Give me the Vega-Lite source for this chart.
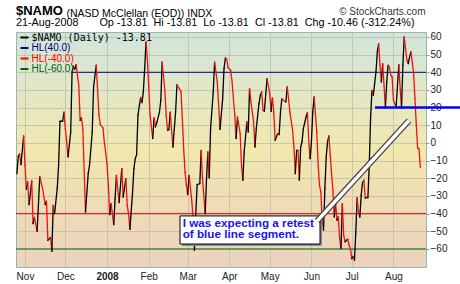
{
  "$schema": "https://vega.github.io/schema/vega-lite/v6.json",
  "width": 410,
  "height": 235,
  "autosize": {"type": "none"},
  "padding": {"left": 16, "top": 32, "right": 34, "bottom": 17},
  "background": "white",
  "title": {
    "text": "$NAMO",
    "subtitle": "21-Aug-2008\u00a0\u00a0\u00a0\u00a0\u00a0\u00a0\u00a0Op -13.81\u00a0\u00a0Hi -13.81\u00a0\u00a0Lo -13.81\u00a0\u00a0Cl -13.81\u00a0\u00a0Chg -10.46 (-312.24%)",
    "anchor": "start",
    "frame": "group",
    "font": "Liberation Sans",
    "fontSize": 13,
    "fontWeight": "bold",
    "color": "#000000",
    "subtitleFont": "Liberation Sans",
    "subtitleFontSize": 10.8,
    "subtitleColor": "#000000",
    "subtitlePadding": -1,
    "offset": -21
  },
  "datasets": {
    "namo": [
      {"date": "2007-10-26", "v": -17.4}, {"date": "2007-10-27", "v": -7.4}, {"date": "2007-10-28", "v": -6.2}, {"date": "2007-10-29", "v": -12.3}, {"date": "2007-10-31", "v": 4.0},
      {"date": "2007-11-01", "v": -12.6}, {"date": "2007-11-02", "v": -26.2}, {"date": "2007-11-03", "v": -22.1}, {"date": "2007-11-04", "v": -34.9}, {"date": "2007-11-06", "v": -21.5},
      {"date": "2007-11-07", "v": -45.7}, {"date": "2007-11-08", "v": -42.1}, {"date": "2007-11-10", "v": -50.0}, {"date": "2007-11-12", "v": -19.1}, {"date": "2007-11-14", "v": -25.5},
      {"date": "2007-11-16", "v": -34.9}, {"date": "2007-11-17", "v": -33.0}, {"date": "2007-11-18", "v": -55.1}, {"date": "2007-11-20", "v": -53.4}, {"date": "2007-11-21", "v": -61.3},
      {"date": "2007-11-22", "v": -35.3}, {"date": "2007-11-23", "v": -40.0}, {"date": "2007-11-25", "v": -25.5}, {"date": "2007-11-26", "v": -12.6}, {"date": "2007-11-27", "v": 12.3},
      {"date": "2007-11-29", "v": 12.3}, {"date": "2007-11-30", "v": 17.5}, {"date": "2007-12-01", "v": 8.1}, {"date": "2007-12-02", "v": 0.6}, {"date": "2007-12-03", "v": -7.9},
      {"date": "2007-12-05", "v": 6.2}, {"date": "2007-12-06", "v": 40.2}, {"date": "2007-12-07", "v": 43.6}, {"date": "2007-12-08", "v": 41.7}, {"date": "2007-12-09", "v": 44.3},
      {"date": "2007-12-11", "v": 32.6}, {"date": "2007-12-12", "v": 12.8}, {"date": "2007-12-13", "v": 14.2}, {"date": "2007-12-14", "v": 8.1}, {"date": "2007-12-16", "v": -39.1},
      {"date": "2007-12-18", "v": -17.4}, {"date": "2007-12-19", "v": -12.6}, {"date": "2007-12-21", "v": 6.2}, {"date": "2007-12-22", "v": 31.7}, {"date": "2007-12-24", "v": 44.0},
      {"date": "2007-12-26", "v": 15.7}, {"date": "2007-12-27", "v": 10.4}, {"date": "2007-12-29", "v": 8.5}, {"date": "2007-12-30", "v": 0.6}, {"date": "2008-01-01", "v": -11.7},
      {"date": "2008-01-02", "v": -24.0}, {"date": "2008-01-03", "v": -40.6}, {"date": "2008-01-04", "v": -34.3}, {"date": "2008-01-06", "v": -46.2}, {"date": "2008-01-07", "v": -31.5},
      {"date": "2008-01-08", "v": -18.3}, {"date": "2008-01-10", "v": -33.8}, {"date": "2008-01-12", "v": -14.5}, {"date": "2008-01-13", "v": -30.6}, {"date": "2008-01-15", "v": -20.2},
      {"date": "2008-01-16", "v": -35.3}, {"date": "2008-01-17", "v": -40.0}, {"date": "2008-01-18", "v": -48.9}, {"date": "2008-01-20", "v": -27.7}, {"date": "2008-01-21", "v": -14.5},
      {"date": "2008-01-22", "v": -8.9}, {"date": "2008-01-23", "v": -6.6}, {"date": "2008-01-24", "v": 15.7}, {"date": "2008-01-26", "v": 25.8}, {"date": "2008-01-27", "v": 22.8},
      {"date": "2008-01-28", "v": 28.9}, {"date": "2008-01-29", "v": 42.1}, {"date": "2008-01-30", "v": 57.2}, {"date": "2008-01-31", "v": 47.7}, {"date": "2008-02-01", "v": 31.7},
      {"date": "2008-02-02", "v": 15.7}, {"date": "2008-02-04", "v": 2.5}, {"date": "2008-02-05", "v": 14.2}, {"date": "2008-02-06", "v": 9.1}, {"date": "2008-02-07", "v": 11.5},
      {"date": "2008-02-09", "v": 17.5}, {"date": "2008-02-10", "v": 24.2}, {"date": "2008-02-11", "v": 45.8}, {"date": "2008-02-13", "v": 29.8}, {"date": "2008-02-14", "v": 15.7},
      {"date": "2008-02-15", "v": 7.2}, {"date": "2008-02-16", "v": 7.5}, {"date": "2008-02-17", "v": 17.5}, {"date": "2008-02-19", "v": -2.3}, {"date": "2008-02-21", "v": 17.5},
      {"date": "2008-02-22", "v": 33.0}, {"date": "2008-02-24", "v": 30.4}, {"date": "2008-02-25", "v": 28.9}, {"date": "2008-02-26", "v": 13.8}, {"date": "2008-02-27", "v": -3.2},
      {"date": "2008-02-28", "v": -16.4}, {"date": "2008-02-29", "v": -23.6}, {"date": "2008-03-01", "v": -29.2}, {"date": "2008-03-02", "v": -18.3}, {"date": "2008-03-04", "v": -32.5},
      {"date": "2008-03-05", "v": -42.8}, {"date": "2008-03-06", "v": -60.8}, {"date": "2008-03-07", "v": -40.0}, {"date": "2008-03-08", "v": -23.6}, {"date": "2008-03-10", "v": -23.0},
      {"date": "2008-03-11", "v": -4.2}, {"date": "2008-03-12", "v": -20.2}, {"date": "2008-03-14", "v": -40.0}, {"date": "2008-03-15", "v": -20.2}, {"date": "2008-03-16", "v": -5.1},
      {"date": "2008-03-17", "v": -19.8}, {"date": "2008-03-18", "v": 8.1}, {"date": "2008-03-20", "v": 28.9}, {"date": "2008-03-21", "v": 45.8}, {"date": "2008-03-23", "v": 34.5},
      {"date": "2008-03-24", "v": 21.3}, {"date": "2008-03-25", "v": 7.7}, {"date": "2008-03-27", "v": 25.1}, {"date": "2008-03-28", "v": 42.1}, {"date": "2008-03-29", "v": 48.1},
      {"date": "2008-03-30", "v": 47.4}, {"date": "2008-03-31", "v": 42.5}, {"date": "2008-04-02", "v": 41.1}, {"date": "2008-04-03", "v": 34.5}, {"date": "2008-04-05", "v": 15.7},
      {"date": "2008-04-06", "v": 2.5}, {"date": "2008-04-07", "v": 14.7}, {"date": "2008-04-09", "v": 5.3}, {"date": "2008-04-10", "v": -12.6}, {"date": "2008-04-11", "v": -21.1},
      {"date": "2008-04-12", "v": -5.1}, {"date": "2008-04-14", "v": 11.9}, {"date": "2008-04-15", "v": 6.2}, {"date": "2008-04-16", "v": 30.8}, {"date": "2008-04-17", "v": 23.2},
      {"date": "2008-04-19", "v": 11.9}, {"date": "2008-04-20", "v": -2.3}, {"date": "2008-04-21", "v": 8.1}, {"date": "2008-04-23", "v": 22.3}, {"date": "2008-04-24", "v": 27.0},
      {"date": "2008-04-25", "v": 28.9}, {"date": "2008-04-26", "v": 18.5}, {"date": "2008-04-27", "v": 17.9}, {"date": "2008-04-29", "v": 36.4}, {"date": "2008-05-01", "v": 27.9},
      {"date": "2008-05-02", "v": 17.9}, {"date": "2008-05-03", "v": 25.5}, {"date": "2008-05-04", "v": 17.5}, {"date": "2008-05-05", "v": 1.5}, {"date": "2008-05-07", "v": 5.3},
      {"date": "2008-05-08", "v": 4.7}, {"date": "2008-05-09", "v": 17.5}, {"date": "2008-05-10", "v": 25.1}, {"date": "2008-05-11", "v": 24.2}, {"date": "2008-05-13", "v": 23.2},
      {"date": "2008-05-14", "v": 31.7}, {"date": "2008-05-15", "v": 25.1}, {"date": "2008-05-16", "v": 17.5}, {"date": "2008-05-18", "v": 7.2}, {"date": "2008-05-19", "v": -2.3},
      {"date": "2008-05-20", "v": -17.4}, {"date": "2008-05-21", "v": -4.2}, {"date": "2008-05-22", "v": -4.2}, {"date": "2008-05-23", "v": -21.1}, {"date": "2008-05-24", "v": -2.3},
      {"date": "2008-05-25", "v": 0.6}, {"date": "2008-05-26", "v": 8.1}, {"date": "2008-05-28", "v": 14.7}, {"date": "2008-05-29", "v": 17.2}, {"date": "2008-05-30", "v": 1.5},
      {"date": "2008-05-31", "v": -8.9}, {"date": "2008-06-01", "v": 0.6}, {"date": "2008-06-02", "v": 17.5}, {"date": "2008-06-03", "v": 26.0}, {"date": "2008-06-05", "v": 6.2},
      {"date": "2008-06-06", "v": -12.6}, {"date": "2008-06-07", "v": -24.0}, {"date": "2008-06-08", "v": -27.7}, {"date": "2008-06-09", "v": -43.8}, {"date": "2008-06-10", "v": -49.4},
      {"date": "2008-06-11", "v": -25.8}, {"date": "2008-06-12", "v": -7.9}, {"date": "2008-06-13", "v": 0.6}, {"date": "2008-06-14", "v": 4.0}, {"date": "2008-06-15", "v": -7.0},
      {"date": "2008-06-16", "v": -17.4}, {"date": "2008-06-17", "v": -26.8}, {"date": "2008-06-18", "v": -41.9}, {"date": "2008-06-19", "v": -34.3}, {"date": "2008-06-20", "v": -43.8},
      {"date": "2008-06-21", "v": -41.9}, {"date": "2008-06-22", "v": -54.2}, {"date": "2008-06-23", "v": -59.8}, {"date": "2008-06-24", "v": -34.3}, {"date": "2008-06-25", "v": -52.3},
      {"date": "2008-06-26", "v": -56.0}, {"date": "2008-06-27", "v": -55.1}, {"date": "2008-06-28", "v": -54.5}, {"date": "2008-06-29", "v": -57.9}, {"date": "2008-06-30", "v": -59.8},
      {"date": "2008-07-01", "v": -65.5}, {"date": "2008-07-02", "v": -64.2}, {"date": "2008-07-03", "v": -66.4}, {"date": "2008-07-04", "v": -50.4}, {"date": "2008-07-05", "v": -30.9},
      {"date": "2008-07-06", "v": -39.1}, {"date": "2008-07-07", "v": -41.9}, {"date": "2008-07-08", "v": -29.6}, {"date": "2008-07-09", "v": -22.5}, {"date": "2008-07-10", "v": -21.1},
      {"date": "2008-07-11", "v": -31.1}, {"date": "2008-07-13", "v": -30.9}, {"date": "2008-07-14", "v": -12.6}, {"date": "2008-07-15", "v": 13.8}, {"date": "2008-07-16", "v": 29.8},
      {"date": "2008-07-17", "v": 27.0}, {"date": "2008-07-18", "v": 33.6}, {"date": "2008-07-19", "v": 40.2}, {"date": "2008-07-20", "v": 51.5}, {"date": "2008-07-21", "v": 56.2},
      {"date": "2008-07-22", "v": 44.0}, {"date": "2008-07-23", "v": 34.5}, {"date": "2008-07-24", "v": 44.9}, {"date": "2008-07-26", "v": 19.8}, {"date": "2008-07-27", "v": 34.5},
      {"date": "2008-07-28", "v": 44.0}, {"date": "2008-07-29", "v": 43.0}, {"date": "2008-07-30", "v": 38.3}, {"date": "2008-07-31", "v": 37.4}, {"date": "2008-08-01", "v": 24.2},
      {"date": "2008-08-03", "v": 20.4}, {"date": "2008-08-04", "v": 32.6}, {"date": "2008-08-05", "v": 44.3}, {"date": "2008-08-06", "v": 30.8}, {"date": "2008-08-07", "v": 19.8},
      {"date": "2008-08-08", "v": 44.0}, {"date": "2008-08-09", "v": 60.0}, {"date": "2008-08-11", "v": 46.8}, {"date": "2008-08-12", "v": 44.9}, {"date": "2008-08-13", "v": 48.7},
      {"date": "2008-08-14", "v": 51.5}, {"date": "2008-08-15", "v": 45.8}, {"date": "2008-08-16", "v": 39.2}, {"date": "2008-08-17", "v": 25.1}, {"date": "2008-08-18", "v": 10.0},
      {"date": "2008-08-19", "v": -2.9}, {"date": "2008-08-20", "v": -3.35}, {"date": "2008-08-21", "v": -13.81}
    ],
    "hl": [
      {"name": "HL(-40.0)", "v": -40},
      {"name": "HL(-60.0)", "v": -60}
    ]
  },
  "layer": [
    {
      "data": {"name": "hl"},
      "mark": {"type": "rule", "strokeWidth": 1},
      "encoding": {
        "y": {"field": "v", "type": "quantitative", "scale": {"domain": [-70.2, 62.8], "nice": false, "zero": false}, "axis": null},
        "color": {
          "field": "name",
          "type": "nominal",
          "scale": {"domain": ["$NAMO (Daily) -13.81", "HL(40.0)", "HL(-40.0)", "HL(-60.0)"], "range": ["#000000", "#000080", "#ff0000", "#006400"]},
          "legend": {
            "orient": "none",
            "legendX": 3.5,
            "legendY": 0.5,
            "title": null,
            "symbolType": "stroke",
            "symbolSize": 64,
            "symbolStrokeWidth": 2,
            "labelFontSize": 10,
            "labelOffset": 2,
            "rowPadding": 0.5,
            "padding": 0,
            "labelFont": "Liberation Sans",
            "encode": {
              "labels": {
                "update": {
                  "fill": {"signal": "scale('color', datum.value)"},
                  "font": {"signal": "indexof(datum.value, 'NAMO') >= 0 ? 'DejaVu Sans Mono' : 'Liberation Sans'"}
                }
              }
            }
          }
        }
      }
    },
    {
      "data": {"values": [{}]},
      "mark": {"type": "rule", "color": "#000080", "strokeWidth": 1},
      "encoding": {
        "x": {
          "datum": {"year": 2007, "month": "dec", "date": 5, "hours": 23, "utc": true},
          "type": "temporal",
          "axis": {
            "orient": "top", "labels": false, "ticks": false, "domain": false, "grid": false,
            "title": "(NASD McClellan (EOD))  INDX", "titleX": 50, "titleY": -15.5, "titleAlign": "left",
            "titleBaseline": "alphabetic", "titleAnchor": null, "titleFontSize": 10.5, "titleFontWeight": "normal",
            "titleColor": "#000000", "titleFont": "Liberation Sans"
          }
        },
        "x2": {"datum": {"year": 2008, "month": "aug", "date": 25, "hours": 5, "utc": true}},
        "y": {
          "datum": 40,
          "type": "quantitative",
          "axis": {
            "orient": "left", "labels": false, "ticks": false, "domain": false, "grid": false,
            "title": "\u00a9 StockCharts.com", "titleAngle": 0, "titleX": 409, "titleY": -17.5, "titleAlign": "right",
            "titleBaseline": "alphabetic", "titleFontSize": 10, "titleFontWeight": "normal", "titleColor": "#333333",
            "titleFont": "Liberation Sans"
          }
        }
      }
    },
    {
      "data": {"name": "namo"},
      "transform": [
        {"window": [{"op": "lag", "field": "v", "as": "pv"}, {"op": "lag", "field": "date", "as": "pdate"}], "sort": [{"field": "date"}]},
        {"filter": "datum.pv != null"}
      ],
      "mark": {"type": "rule", "strokeWidth": 1.3, "strokeCap": "round"},
      "encoding": {
        "x": {
          "field": "pdate",
          "type": "temporal",
          "scale": {"type": "utc", "domain": [{"year": 2007, "month": "oct", "date": 25, "hours": 7, "minutes": 26, "utc": true}, {"year": 2008, "month": "aug", "date": 25, "hours": 5, "utc": true}]},
          "axis": {
            "orient": "bottom",
            "values": [
              {"year": 2007, "month": "nov", "date": 1, "utc": true},
              {"year": 2007, "month": "dec", "date": 1, "utc": true},
              {"year": 2008, "month": "jan", "date": 1, "utc": true},
              {"year": 2008, "month": "feb", "date": 1, "utc": true},
              {"year": 2008, "month": "mar", "date": 1, "utc": true},
              {"year": 2008, "month": "apr", "date": 1, "utc": true},
              {"year": 2008, "month": "may", "date": 1, "utc": true},
              {"year": 2008, "month": "jun", "date": 1, "utc": true},
              {"year": 2008, "month": "jul", "date": 1, "utc": true},
              {"year": 2008, "month": "aug", "date": 1, "utc": true}
            ],
            "labelExpr": "utcmonth(datum.value) == 0 ? utcFormat(datum.value, '%Y') : utcFormat(datum.value, '%b')",
            "labelFontWeight": {"condition": {"test": "utcmonth(datum.value) == 0", "value": "bold"}, "value": "normal"},
            "grid": true, "ticks": false, "domain": false, "labelPadding": 4, "title": null,
            "labelFlush": false, "labelOverlap": false, "labelFontSize": 10, "labelColor": "#222222"
          }
        },
        "x2": {"field": "date"},
        "y": {
          "field": "pv",
          "type": "quantitative",
          "axis": {
            "orient": "right", "values": [-60, -50, -40, -30, -20, -10, 0, 10, 20, 30, 40, 50, 60],
            "grid": true, "tickSize": 3, "tickColor": "#8a9a94", "domain": false, "labelAlign": "left",
            "labelPadding": 1, "title": null, "labelFontSize": 10, "labelColor": "#222222"
          }
        },
        "y2": {"field": "v"},
        "color": {"condition": {"test": "datum.v >= datum.pv", "value": "#000000"}, "value": "#f01010"}
      }
    },
    {
      "data": {"values": [{}]},
      "mark": {"type": "rule", "color": "#0000ff", "strokeWidth": 2.5},
      "encoding": {
        "x": {"datum": {"year": 2008, "month": "jul", "date": 18, "hours": 7, "minutes": 12, "utc": true}, "type": "temporal", "axis": null},
        "x2": {"datum": {"year": 2008, "month": "sep", "date": 19, "hours": 12, "minutes": 30, "utc": true}},
        "y": {"datum": 20, "type": "quantitative", "axis": null}
      }
    },
    {
      "data": {"values": [{}]},
      "mark": {"type": "rect", "fill": "#8c8c8c", "xOffset": 2, "x2Offset": 2, "yOffset": 2, "y2Offset": 2},
      "encoding": {
        "x": {"datum": {"year": 2008, "month": "feb", "date": 24, "hours": 6, "minutes": 43, "utc": true}, "type": "temporal", "axis": null},
        "x2": {"datum": {"year": 2008, "month": "jun", "date": 7, "hours": 9, "minutes": 35, "utc": true}},
        "y": {"datum": -41.3, "type": "quantitative", "axis": null},
        "y2": {"datum": -57.2}
      }
    },
    {
      "data": {"values": [{}]},
      "mark": {"type": "rect", "fill": "#ffffff", "stroke": "#000000", "strokeWidth": 1},
      "encoding": {
        "x": {"datum": {"year": 2008, "month": "feb", "date": 24, "hours": 6, "minutes": 43, "utc": true}, "type": "temporal", "axis": null},
        "x2": {"datum": {"year": 2008, "month": "jun", "date": 7, "hours": 9, "minutes": 35, "utc": true}},
        "y": {"datum": -41.3, "type": "quantitative", "axis": null},
        "y2": {"datum": -57.2}
      }
    },
    {
      "data": {"values": [{}]},
      "mark": {"type": "rule", "color": "#404040", "strokeWidth": 6, "strokeCap": "butt"},
      "encoding": {
        "x": {"datum": {"year": 2008, "month": "jun", "date": 5, "hours": 4, "utc": true}, "type": "temporal", "axis": null},
        "x2": {"datum": {"year": 2008, "month": "aug", "date": 12, "hours": 14, "utc": true}},
        "y": {"datum": -44.2, "type": "quantitative", "axis": null},
        "y2": {"datum": 12.7}
      }
    },
    {
      "data": {"values": [{}]},
      "mark": {"type": "rule", "color": "#ffffff", "strokeWidth": 3.5, "strokeCap": "butt"},
      "encoding": {
        "x": {"datum": {"year": 2008, "month": "jun", "date": 5, "hours": 4, "utc": true}, "type": "temporal", "axis": null},
        "x2": {"datum": {"year": 2008, "month": "aug", "date": 12, "hours": 14, "utc": true}},
        "y": {"datum": -44.2, "type": "quantitative", "axis": null},
        "y2": {"datum": 12.7}
      }
    },
    {
      "data": {"values": [{}]},
      "mark": {
        "type": "text",
        "text": ["I was expecting a retest", "of blue line segment."],
        "font": "Liberation Sans",
        "fontSize": 11.7,
        "fontWeight": "bold",
        "color": "#1515f5",
        "align": "left",
        "baseline": "alphabetic",
        "lineHeight": 11
      },
      "encoding": {
        "x": {"datum": {"year": 2008, "month": "feb", "date": 26, "hours": 6, "minutes": 43, "utc": true}, "type": "temporal", "axis": null},
        "y": {"datum": -47.4, "type": "quantitative", "axis": null}
      }
    }
  ],
  "resolve": {"axis": {"x": "independent", "y": "independent"}},
  "config": {
    "font": "Liberation Sans",
    "view": {
      "stroke": "#9ab4ab",
      "strokeWidth": 1,
      "fill": {
        "gradient": "linear", "x1": 0, "y1": 0, "x2": 0, "y2": 1,
        "stops": [
          {"offset": 0, "color": "#cfe6dc"},
          {"offset": 0.25, "color": "#e3e7c6"},
          {"offset": 0.5, "color": "#f2e8ae"},
          {"offset": 0.75, "color": "#efdbb6"},
          {"offset": 1, "color": "#ebd2bf"}
        ]
      }
    },
    "axis": {"labelFont": "Liberation Sans", "gridColor": "#c4c6b0", "gridWidth": 1}
  }
}
